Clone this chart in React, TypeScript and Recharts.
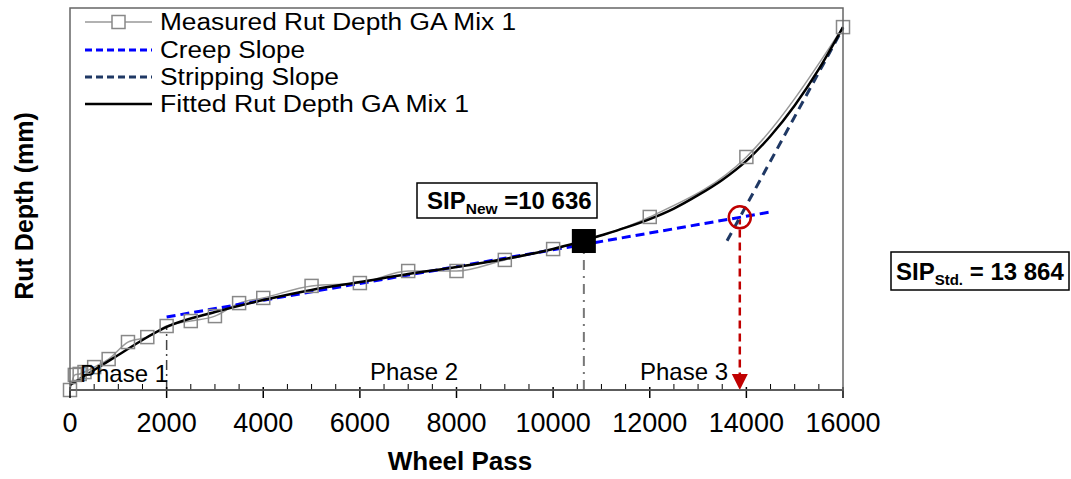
import React from 'react';
import { ComposedChart, Line, Scatter, XAxis, YAxis, ReferenceLine, ReferenceDot } from 'recharts';

const measuredPass = [0, 100, 200, 300, 500, 800, 1200, 1600, 2000, 2500, 3000, 3500, 4000, 5000, 6000, 7000, 8000, 9000, 10000, 12000, 14000, 16000];
const measuredRut = [0, 0.79, 0.84, 0.94, 1.2, 1.62, 2.51, 2.77, 3.35, 3.61, 3.87, 4.55, 4.82, 5.45, 5.6, 6.23, 6.23, 6.81, 7.38, 9.06, 12.2, 19.0];

const fittedPass = [0, 250, 500, 1000, 1500, 2000, 3000, 4000, 5000, 6000, 7000, 8000, 9000, 10000, 10500, 11000, 11500, 12000, 12500, 13000, 13500, 14000, 14500, 15000, 15500, 16000];
const fittedRut = [0.26, 0.65, 1.05, 1.83, 2.62, 3.3, 4.08, 4.71, 5.24, 5.65, 6.07, 6.44, 6.86, 7.38, 7.72, 8.1, 8.5, 8.95, 9.5, 10.2, 11.0, 12.0, 13.3, 14.9, 16.8, 19.0];

const creepPass = [2000, 14500];
const creepRut = [3.82, 9.32];

const strippingPass = [13600, 16000];
const strippingRut = [7.81, 18.95];

const sipNew = { x: 10636, y: 7.8 };
const sipStd = { x: 13864, y: 9.04 };
const phase1End = { x: 2000, top: 3.3 };

const xTicks = Array.from({ length: 33 }, (_, i) => i * 500);

const toRows = (xs: number[], ys: number[]) => xs.map((x, i) => ({ x, y: ys[i] }));
const measured = toRows(measuredPass, measuredRut);
const fitted = toRows(fittedPass, fittedRut);
const creep = toRows(creepPass, creepRut);
const stripping = toRows(strippingPass, strippingRut);

const FONT = 'Liberation Sans, Arial, sans-serif';

const AxisTick = (props: any) => {
  const { x, y, payload } = props;
  const v = payload.value;
  const major = v % 2000 === 0;
  return (
    <g>
      {major ? (
        <line x1={x} x2={x} y1={y - 3} y2={y + 8} stroke="#000" strokeWidth={1.5} />
      ) : (
        <line x1={x} x2={x} y1={y - 6} y2={y} stroke="#000" strokeWidth={1} />
      )}
      {major && (
        <text x={x} y={y + 42} textAnchor="middle" fontSize={27} fontFamily={FONT} fill="#000">
          {v}
        </text>
      )}
    </g>
  );
};

const SquareDot = (props: any) => {
  const { cx, cy, index } = props;
  if (cx == null || cy == null) return <g key={`d-${index}`} />;
  return <rect key={`d-${index}`} x={cx - 6.5} y={cy - 6.5} width={13} height={13} fill="none" stroke="#888" strokeWidth={1.5} />;
};

const BlackSquare = (props: any) => {
  const { cx, cy } = props;
  return <rect x={cx - 12} y={cy - 12} width={24} height={24} fill="#000" />;
};

const ArrowHead = (props: any) => {
  const { cx, cy } = props;
  return <polygon points={`${cx - 8},${cy - 16} ${cx + 8},${cy - 16} ${cx},${cy}`} fill="#c00000" />;
};

const Txt = ({ x, y, size, bold, children, anchor, len }: any) => (
  <text
    x={x}
    y={y}
    fontSize={size}
    fontWeight={bold ? 'bold' : 'normal'}
    fontFamily={FONT}
    textAnchor={anchor || 'start'}
    fill="#000"
    textLength={len}
    lengthAdjust={len ? 'spacingAndGlyphs' : undefined}
  >
    {children}
  </text>
);

const legendRows = [
  { label: 'Measured Rut Depth GA Mix 1', y: 22, kind: 'measured', len: 356 },
  { label: 'Creep Slope', y: 50, kind: 'creep', len: 145 },
  { label: 'Stripping Slope', y: 77, kind: 'strip', len: 179 },
  { label: 'Fitted Rut Depth GA Mix 1', y: 104, kind: 'fitted', len: 309 },
];

export default function App() {
  return (
    <div style={{ position: 'absolute', left: 0, top: 0, width: 1071, height: 479, background: '#fff' }}>
      <ComposedChart width={1071} height={479} margin={{ top: 8, right: 228, bottom: 39, left: 70 }}>
        <XAxis
          dataKey="x"
          type="number"
          domain={[0, 16000]}
          ticks={xTicks}
          interval={0}
          tickSize={0}
          tickMargin={0}
          tickLine={false}
          tick={<AxisTick />}
          axisLine={{ stroke: '#000', strokeWidth: 1.5 }}
          height={50}
        />
        <YAxis type="number" domain={[0, 20]} hide />
        <ReferenceLine
          segment={[{ x: phase1End.x, y: 0 }, { x: phase1End.x, y: phase1End.top }]}
          stroke="#444"
          strokeWidth={1.5}
          strokeDasharray="10 4 2 4"
        />
        <ReferenceLine
          segment={[{ x: sipNew.x, y: 0 }, { x: sipNew.x, y: sipNew.y - 0.6 }]}
          stroke="#777"
          strokeWidth={2}
          strokeDasharray="10 6 2 6"
        />
        <ReferenceLine
          segment={[{ x: sipStd.x, y: 0.5 }, { x: sipStd.x, y: sipStd.y - 0.1 }]}
          stroke="#c00000"
          strokeWidth={2.5}
          strokeDasharray="8 5"
        />
        <Line data={measured} dataKey="y" type="monotone" stroke="#999" strokeWidth={1.5} dot={SquareDot} isAnimationActive={false} />
        <Line data={creep} dataKey="y" type="linear" stroke="#0000ff" strokeWidth={3} strokeDasharray="9 5" dot={false} isAnimationActive={false} />
        <Line data={stripping} dataKey="y" type="linear" stroke="#1f3864" strokeWidth={3} strokeDasharray="9 6" dot={false} isAnimationActive={false} />
        <Line data={fitted} dataKey="y" type="monotone" stroke="#000" strokeWidth={2.5} dot={false} isAnimationActive={false} />
        <Scatter data={[sipNew]} dataKey="y" shape={<BlackSquare />} isAnimationActive={false} />
        <ReferenceDot x={sipStd.x} y={sipStd.y} r={11} fill="none" stroke="#c00000" strokeWidth={2.5} />
        <ReferenceDot x={sipStd.x} y={0} shape={<ArrowHead />} />
      </ComposedChart>
      <svg width={1071} height={479} style={{ position: 'absolute', left: 0, top: 0, pointerEvents: 'none' }}>
        <rect x={70} y={8} width={773} height={382} fill="none" stroke="#666" strokeWidth={1.5} />
        {legendRows.map((r) => (
          <g key={r.label}>
            {r.kind === 'measured' && (
              <>
                <line x1={85} x2={152} y1={r.y} y2={r.y} stroke="#999" strokeWidth={1.5} />
                <rect x={112} y={r.y - 6.5} width={13} height={13} fill="#fff" stroke="#888" strokeWidth={1.5} />
              </>
            )}
            {r.kind === 'creep' && <line x1={85} x2={152} y1={r.y} y2={r.y} stroke="#0000ff" strokeWidth={3} strokeDasharray="7 4" />}
            {r.kind === 'strip' && <line x1={85} x2={152} y1={r.y} y2={r.y} stroke="#1f3864" strokeWidth={3} strokeDasharray="7 4" />}
            {r.kind === 'fitted' && <line x1={85} x2={152} y1={r.y} y2={r.y} stroke="#000" strokeWidth={2.5} />}
            <Txt x={160} y={r.y + 8} size={23.5} len={r.len}>
              {r.label}
            </Txt>
          </g>
        ))}
        <Txt x={80} y={382} size={24}>Phase 1</Txt>
        <Txt x={370} y={380} size={24}>Phase 2</Txt>
        <Txt x={640} y={380} size={24}>Phase 3</Txt>

        <rect x={417} y={183} width={180} height={35} fill="#fff" stroke="#000" strokeWidth={1.5} />
        <text x={427} y={209} fontSize={24} fontWeight="bold" fontFamily={FONT} fill="#000">
          SIP
          <tspan fontSize={15.5} dy={5}>New</tspan>
          <tspan fontSize={24} dy={-5}> =10 636</tspan>
        </text>

        <rect x={891} y={252} width={178} height={38} fill="#fff" stroke="#000" strokeWidth={1.5} />
        <text x={896} y={280} fontSize={24} fontWeight="bold" fontFamily={FONT} fill="#000">
          SIP
          <tspan fontSize={15} dy={5}>Std.</tspan>
          <tspan fontSize={24} dy={-5}> = 13 864</tspan>
        </text>

        <Txt x={460} y={470} size={26} bold anchor="middle">Wheel Pass</Txt>
        <text transform="translate(33,206) rotate(-90)" fontSize={25} fontWeight="bold" fontFamily={FONT} textAnchor="middle" fill="#000">
          Rut Depth (mm)
        </text>
      </svg>
    </div>
  );
}
